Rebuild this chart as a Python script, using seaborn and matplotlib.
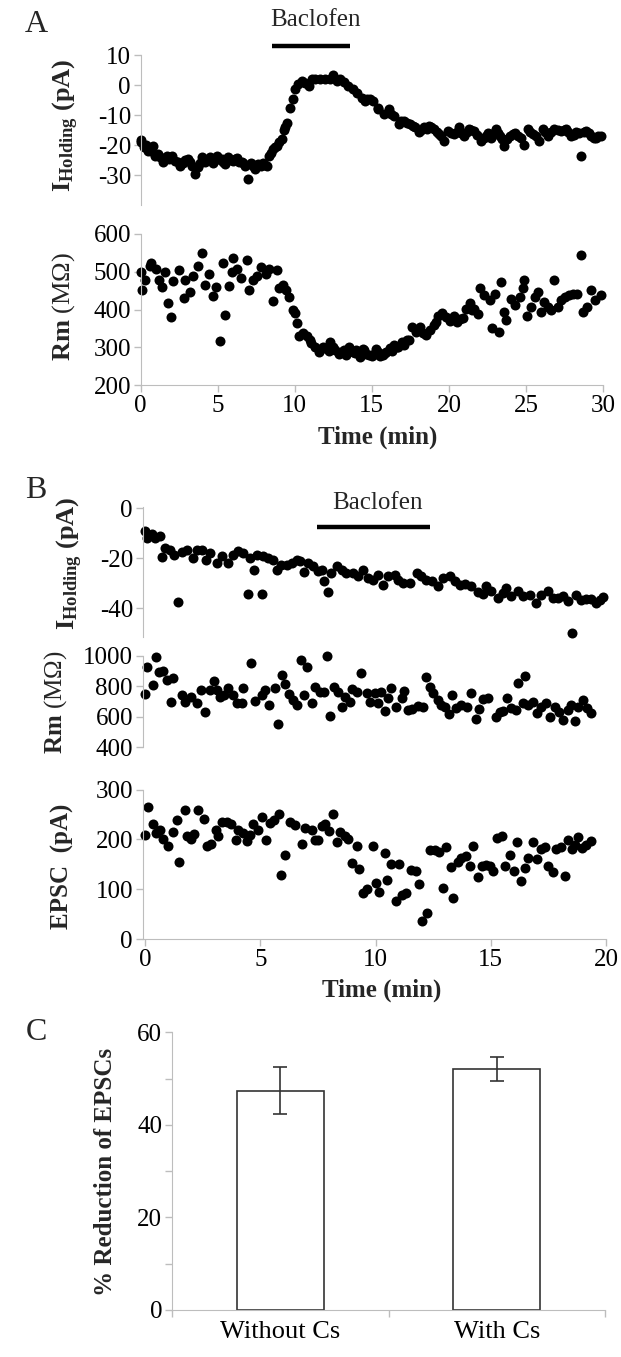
import matplotlib
matplotlib.use('Agg')
import matplotlib.pyplot as plt
import seaborn as sns

# ---------------- Panel A : holding current (pA) vs time (min)
a_hold_t = [0.0, 0.02, 0.2, 0.35, 0.5, 0.65, 0.78, 0.93, 1.1, 1.26, 1.47, 1.69, 1.85, 2.01, 2.23, 2.4,
            2.55, 2.77, 2.9, 3.1, 3.2, 3.31, 3.53, 3.74, 3.85, 3.96, 4.18, 4.35, 4.5, 4.72, 4.85, 4.98,
            5.1, 5.26, 5.35, 5.48, 5.69, 5.85, 6.02, 6.15, 6.28, 6.4, 6.56, 6.65, 6.77, 6.99, 7.14, 7.3,
            7.42, 7.64, 7.8, 7.92, 8.05, 8.18, 8.35, 8.45, 8.57, 8.7, 8.83, 9.0, 9.16, 9.3, 9.37, 9.52,
            9.7, 9.91, 10.02, 10.24, 10.45, 10.67, 10.89, 11.1, 11.32, 11.65, 11.97, 12.29, 12.51, 12.73,
            12.94, 13.2, 13.48, 13.77, 14.03, 14.35, 14.57, 14.67, 14.85, 15.1, 15.37, 15.43, 15.76,
            16.09, 16.25, 16.41, 16.74, 16.9, 17.07, 17.3, 17.5, 17.65, 17.83, 18.04, 18.2, 18.37, 18.55,
            18.7, 18.85, 19.02, 19.2, 19.35, 19.5, 19.67, 19.93, 20.15, 20.33, 20.5, 20.65, 20.8, 20.98,
            21.15, 21.3, 21.45, 21.63, 21.85, 22.07, 22.25, 22.39, 22.55, 22.72, 22.9, 23.04, 23.2,
            23.33, 23.45, 23.59, 23.8, 23.95, 24.13, 24.3, 24.46, 24.65, 24.85, 25.11, 25.25, 25.43,
            25.65, 25.87, 26.09, 26.25, 26.41, 26.65, 26.85, 27.05, 27.28, 27.45, 27.61, 27.75, 27.93,
            28.1, 28.26, 28.45, 28.59, 28.75, 28.91, 29.1, 29.24, 29.4, 29.57, 29.7, 29.85]
a_hold_v = [-19.1, -18.3, -20.8, -20.0, -21.9, -22.0, -20.4, -23.5, -23.0, -24.1, -25.7, -23.5, -24.5,
            -23.5, -25.2, -25.5, -26.9, -26.0, -25.0, -24.6, -25.5, -26.9, -29.6, -27.4, -26.0, -24.1,
            -25.7, -25.0, -24.1, -26.0, -25.0, -23.8, -24.5, -24.6, -25.5, -26.3, -24.1, -25.0, -25.2,
            -24.5, -24.4, -25.5, -25.7, -26.0, -26.9, -31.3, -26.0, -27.0, -28.0, -26.3, -27.0, -26.0,
            -26.5, -26.9, -23.5, -22.5, -21.3, -20.5, -20.2, -19.0, -18.0, -15.0, -14.1, -12.5, -7.5,
            -4.8, -1.4, 0.2, 1.3, 0.8, -0.3, 2.1, 1.9, 2.1, 1.9, 1.9, 3.2, 1.3, 2.1, 1.0, -0.3, -1.4,
            -2.5, -4.2, -5.3, -4.8, -4.8, -5.3, -8.1, -7.5, -9.7, -8.1, -9.5, -10.3, -13.0, -12.0,
            -11.9, -12.5, -13.0, -13.5, -14.1, -15.8, -15.0, -14.1, -14.5, -13.6, -14.0, -14.7, -15.5,
            -16.4, -17.0, -18.6, -15.2, -16.0, -16.4, -15.5, -14.1, -16.0, -16.9, -15.5, -14.7, -15.0,
            -15.2, -16.5, -18.6, -17.5, -16.9, -16.0, -17.5, -16.0, -14.7, -16.0, -16.9, -18.0, -20.2,
            -18.0, -17.0, -16.4, -16.0, -16.9, -17.5, -20.0, -14.7, -15.5, -16.4, -17.0, -18.6, -14.7,
            -15.5, -16.9, -15.5, -14.7, -15.0, -15.2, -15.0, -14.7, -15.5, -16.9, -16.5, -15.8, -16.0,
            -23.5, -15.5, -15.2, -16.0, -16.9, -17.5, -17.5, -17.0, -16.9]

# ---------------- Panel A : membrane resistance (MOhm)
a_rm_t = [0.0, 0.1, 0.3, 0.6, 0.7, 1.0, 1.2, 1.4, 1.6, 1.75, 1.95, 2.1, 2.5, 2.8, 2.9, 3.2, 3.4, 3.7,
          4.0, 4.15, 4.45, 4.7, 4.9, 5.15, 5.35, 5.5, 5.75, 5.9, 6.0, 6.25, 6.5, 6.9, 7.0, 7.3, 7.55,
          7.8, 8.1, 8.35, 8.6, 8.85, 9.0, 9.25, 9.4, 9.6, 9.9, 10.0, 10.15, 10.3, 10.5, 10.8, 11.0,
          11.05, 11.3, 11.55, 11.7, 11.8, 12.05, 12.2, 12.3, 12.45, 12.6, 12.85, 13.0, 13.2, 13.35,
          13.5, 13.75, 13.9, 14.0, 14.25, 14.4, 14.5, 14.65, 14.8, 15.0, 15.15, 15.3, 15.4, 15.55,
          15.7, 15.85, 15.95, 16.2, 16.3, 16.45, 16.6, 16.7, 16.95, 17.1, 17.25, 17.4, 17.6, 17.85,
          18.1, 18.3, 18.5, 18.8, 19.05, 19.15, 19.3, 19.55, 19.8, 20.05, 20.3, 20.5, 20.7, 20.9,
          21.1, 21.35, 21.5, 21.6, 21.9, 22.05, 22.25, 22.65, 22.8, 23.0, 23.25, 23.35, 23.55, 23.7,
          24.05, 24.3, 24.6, 24.8, 24.9, 25.1, 25.35, 25.6, 25.75, 26.0, 26.15, 26.4, 26.65, 26.8,
          27.05, 27.3, 27.55, 27.8, 28.05, 28.3, 28.6, 28.7, 28.95, 29.2, 29.5, 29.85]
a_rm_v = [500, 452, 478, 515, 522, 507, 478, 460, 500, 417, 380, 475, 505, 430, 478, 446, 490, 515,
          550, 465, 495, 436, 460, 317, 523, 385, 461, 500, 536, 507, 483, 531, 452, 478, 490, 512,
          495, 507, 423, 504, 456, 464, 452, 434, 400, 390, 364, 330, 338, 330, 318, 312, 300, 288,
          296, 300, 297, 290, 315, 300, 292, 283, 288, 292, 280, 300, 288, 284, 292, 275, 296, 292,
          283, 280, 277, 283, 295, 288, 278, 280, 284, 288, 297, 290, 305, 300, 300, 315, 305, 318,
          320, 354, 340, 354, 338, 332, 345, 358, 368, 384, 392, 380, 370, 384, 368, 375, 378, 402,
          416, 398, 402, 388, 456, 438, 425, 350, 442, 340, 473, 393, 372, 429, 411, 434, 456, 478,
          384, 407, 434, 447, 394, 420, 407, 398, 478, 407, 425, 434, 438, 442, 442, 545, 394, 407,
          452, 425, 438]

# ---------------- Panel B : holding current (pA)
b_hold_t = [0.0, 0.07, 0.29, 0.43, 0.65, 0.75, 0.87, 1.08, 1.27, 1.45, 1.59, 1.81, 2.1, 2.24, 2.46,
            2.63, 2.82, 3.11, 3.32, 3.61, 3.83, 4.05, 4.26, 4.45, 4.55, 4.74, 4.84, 5.06, 5.13, 5.35,
            5.56, 5.71, 5.92, 6.14, 6.36, 6.58, 6.72, 6.91, 7.08, 7.3, 7.51, 7.66, 7.77, 7.95, 8.09,
            8.31, 8.53, 8.74, 9.03, 9.25, 9.47, 9.68, 9.9, 10.12, 10.33, 10.55, 10.84, 10.98, 11.2,
            11.49, 11.78, 11.99, 12.21, 12.43, 12.72, 12.93, 13.22, 13.44, 13.66, 13.87, 14.16, 14.45,
            14.67, 14.81, 15.03, 15.32, 15.53, 15.68, 15.9, 16.18, 16.4, 16.69, 16.98, 17.2, 17.49,
            17.7, 17.92, 18.14, 18.35, 18.53, 18.71, 18.93, 19.15, 19.36, 19.58, 19.73, 19.87]
b_hold_v = [-9.3, -12.0, -10.4, -12.0, -11.0, -19.7, -16.0, -16.7, -18.7, -37.6, -17.6, -16.7, -20.0,
            -16.7, -16.7, -20.7, -18.0, -22.0, -19.3, -22.0, -18.7, -17.3, -18.0, -34.4, -20.0, -24.7,
            -18.9, -34.4, -19.3, -20.0, -20.7, -24.7, -22.7, -22.7, -22.0, -20.7, -21.3, -25.6, -22.0,
            -23.3, -25.3, -24.7, -29.0, -33.6, -26.0, -23.3, -24.7, -26.0, -26.0, -27.3, -24.7, -28.0,
            -28.7, -26.7, -30.7, -27.3, -26.7, -28.7, -30.0, -30.0, -26.0, -27.3, -28.7, -29.0, -31.3,
            -28.0, -27.3, -29.3, -30.7, -30.4, -31.3, -33.6, -34.4, -31.0, -33.3, -36.0, -34.0, -32.0,
            -35.3, -33.3, -35.3, -34.7, -38.0, -34.7, -33.3, -36.0, -36.0, -35.3, -37.3, -50.0, -34.7,
            -36.7, -36.3, -36.3, -38.0, -36.7, -35.7]

# ---------------- Panel B : membrane resistance (MOhm)
b_rm_t = [0.0, 0.1, 0.33, 0.48, 0.62, 0.8, 0.97, 1.11, 1.23, 1.59, 1.73, 1.98, 2.24, 2.41, 2.6, 2.82,
          2.99, 3.14, 3.25, 3.43, 3.61, 3.83, 3.98, 4.19, 4.26, 4.62, 4.77, 5.06, 5.2, 5.39, 5.64,
          5.78, 5.93, 6.07, 6.26, 6.43, 6.58, 6.75, 6.9, 7.04, 7.23, 7.37, 7.59, 7.76, 7.91, 8.02,
          8.2, 8.38, 8.53, 8.67, 8.89, 9.0, 9.18, 9.39, 9.61, 9.75, 9.97, 10.12, 10.22, 10.41, 10.55,
          10.69, 10.91, 11.13, 11.23, 11.42, 11.6, 11.85, 12.07, 12.18, 12.36, 12.5, 12.72, 12.86,
          13.01, 13.19, 13.34, 13.51, 13.73, 13.95, 14.16, 14.38, 14.5, 14.67, 14.89, 15.22, 15.39,
          15.54, 15.71, 15.9, 16.08, 16.18, 16.4, 16.47, 16.62, 16.83, 17.0, 17.2, 17.38, 17.58,
          17.77, 17.96, 18.14, 18.35, 18.5, 18.64, 18.79, 19.0, 19.18, 19.36]
b_rm_v = [750, 925, 809, 996, 897, 904, 842, 700, 853, 743, 700, 728, 689, 776, 634, 776, 838, 776,
          733, 743, 787, 743, 689, 689, 787, 956, 706, 743, 776, 678, 787, 553, 875, 816, 750, 711,
          678, 974, 743, 925, 689, 798, 765, 765, 1002, 605, 798, 765, 662, 728, 700, 781, 765, 886,
          754, 700, 754, 689, 765, 640, 722, 787, 667, 722, 772, 645, 649, 671, 662, 864, 794, 754,
          711, 678, 667, 618, 743, 656, 678, 667, 754, 583, 649, 715, 722, 596, 634, 640, 722, 656,
          645, 820, 693, 868, 678, 700, 623, 667, 689, 596, 667, 634, 579, 645, 678, 575, 667, 711,
          656, 627]

# ---------------- Panel B : EPSC amplitude (pA)
b_epsc_t = [0.0, 0.14, 0.33, 0.48, 0.65, 0.79, 1.01, 1.2, 1.37, 1.49, 1.73, 1.84, 1.98, 2.12, 2.31,
            2.56, 2.7, 2.85, 3.08, 3.18, 3.32, 3.54, 3.71, 3.94, 4.05, 4.26, 4.44, 4.55, 4.7, 4.91,
            5.09, 5.27, 5.42, 5.59, 5.81, 5.92, 6.07, 6.29, 6.5, 6.79, 6.94, 7.23, 7.37, 7.52, 7.66,
            7.81, 8.0, 8.14, 8.31, 8.48, 8.67, 8.82, 9.0, 9.18, 9.29, 9.47, 9.64, 9.87, 10.01, 10.16,
            10.4, 10.51, 10.69, 10.88, 11.03, 11.17, 11.34, 11.52, 11.75, 11.9, 12.0, 12.25, 12.38,
            12.57, 12.76, 12.91, 13.08, 13.26, 13.37, 13.58, 13.73, 13.92, 14.09, 14.23, 14.45, 14.6,
            14.81, 14.96, 15.1, 15.25, 15.47, 15.61, 15.83, 16.0, 16.12, 16.33, 16.48, 16.62, 16.84,
            17.01, 17.2, 17.35, 17.49, 17.71, 17.83, 18.03, 18.22, 18.36, 18.51, 18.65, 18.8, 18.98,
            19.13, 19.37]
b_epsc_v = [208, 265, 230, 213, 219, 201, 187, 214, 238, 154, 258, 207, 201, 211, 258, 241, 187, 191,
            218, 207, 234, 234, 231, 198, 218, 213, 196, 209, 231, 218, 245, 198, 233, 238, 250, 128,
            169, 234, 228, 191, 223, 219, 198, 198, 226, 231, 216, 250, 194, 214, 206, 201, 152, 187,
            140, 93, 100, 187, 113, 95, 172, 119, 151, 77, 151, 89, 93, 139, 136, 111, 37, 53, 178,
            179, 174, 102, 185, 144, 82, 154, 162, 166, 147, 187, 124, 147, 149, 146, 136, 203, 207,
            147, 169, 136, 194, 117, 142, 162, 194, 160, 181, 185, 147, 134, 180, 185, 127, 198, 180,
            189, 205, 183, 189, 196]

# ---------------- Panel C : % reduction of EPSCs
c_groups = ['Without Cs', 'With Cs']
c_mean = [47.4, 52.0]
c_err = [5.0, 2.6]

# ---------------- style
sns.set_style('white')
plt.rcParams['font.family'] = ['Liberation Serif', 'DejaVu Serif']
plt.rcParams['mathtext.fontset'] = 'custom'
plt.rcParams['mathtext.rm'] = 'Liberation Serif'
plt.rcParams['mathtext.bf'] = 'Liberation Serif:bold'
plt.rcParams['axes.unicode_minus'] = False

W, H = 621, 1357
fig = plt.figure(figsize=(W / 100, H / 100), dpi=100)
GRAY = '#bdbdbd'
TICK = 18
LAB = 18


def px_axes(x0, y0, x1, y1):
    # axes placed with pixel edges measured from the top-left corner
    return fig.add_axes([x0 / W, 1 - y1 / H, (x1 - x0) / W, (y1 - y0) / H])


def style(ax, bottom=True):
    ax.patch.set_alpha(0)
    for s in ['top', 'right']:
        ax.spines[s].set_visible(False)
    ax.spines['left'].set_color(GRAY)
    ax.spines['bottom'].set_color(GRAY)
    ax.spines['bottom'].set_visible(bottom)
    ax.tick_params(axis='both', which='both', colors=GRAY, labelcolor='black', length=5, width=1,
                   direction='out', labelsize=TICK, pad=2, left=True, bottom=bottom)
    if not bottom:
        ax.set_xticks([])
    ax.set_xlabel('')
    ax.set_ylabel('')


def dots(ax, t, v):
    sns.scatterplot(x=t, y=v, ax=ax, color='black', s=52, linewidth=0, legend=False, clip_on=False)


# A: holding current
ax = px_axes(140.7, 55, 603, 205)
dots(ax, a_hold_t, a_hold_v)
ax.set_xlim(0, 30)
ax.set_ylim(-40, 10)
ax.set_yticks([-30, -20, -10, 0, 10])
style(ax, bottom=False)
ax.plot([8.5, 13.6], [13, 13], color='black', lw=3.2, clip_on=False, solid_capstyle='butt')
ax.text(8.4, 21.6, 'Baclofen', ha='left', va='center', fontsize=LAB)

# A: Rm
ax = px_axes(140.7, 234, 603, 385)
dots(ax, a_rm_t, a_rm_v)
ax.set_xlim(0, 30)
ax.set_ylim(200, 600)
ax.set_yticks([200, 300, 400, 500, 600])
ax.set_xticks([0, 5, 10, 15, 20, 25, 30])
style(ax)

# B: holding current
ax = px_axes(142.7, 506.7, 606, 636.7)
dots(ax, b_hold_t, b_hold_v)
ax.set_xlim(-0.1, 20)
ax.set_ylim(-51.4, 0.6)
ax.set_yticks([-40, -20, 0])
style(ax, bottom=False)
ax.plot([7.45, 12.35], [-7.6, -7.6], color='black', lw=3.2, clip_on=False, solid_capstyle='butt')
ax.text(10.1, 2.1, 'Baclofen', ha='center', va='center', fontsize=LAB)

# B: Rm
ax = px_axes(142.7, 656, 606, 747.3)
dots(ax, b_rm_t, b_rm_v)
ax.set_xlim(-0.1, 20)
ax.set_ylim(400, 1000)
ax.set_yticks([400, 600, 800, 1000])
style(ax, bottom=False)

# B: EPSC
ax = px_axes(142.7, 789.5, 606, 939)
dots(ax, b_epsc_t, b_epsc_v)
ax.set_xlim(-0.1, 20)
ax.set_ylim(0, 300)
ax.set_yticks([0, 100, 200, 300])
ax.set_xticks([0, 5, 10, 15, 20])
style(ax)

# C: bars
ax = px_axes(172, 1032.3, 605, 1310)
sns.barplot(x=c_groups, y=c_mean, ax=ax, color='white', edgecolor='#333333', linewidth=1.2,
            width=0.4, errorbar=None)
ax.errorbar([0, 1], c_mean, yerr=c_err, fmt='none', ecolor='#333333', elinewidth=1.2, capsize=5,
            capthick=1.2)
ax.set_xlim(-0.5, 1.5)
ax.set_ylim(0, 60)
ax.set_yticks([0, 20, 40, 60])
ax.set_yticks([10, 30, 50], minor=True)
ax.set_xticks([-0.5, 0.5, 1.5], minor=True)
style(ax)
ax.tick_params(axis='x', which='major', length=0, pad=8, labelsize=19)
ax.tick_params(axis='y', which='minor', labelleft=False)

# axis titles and panel letters (pixel positions)
def ftext(x, y, s, **kw):
    fig.text(x / W, 1 - y / H, s, ha='center', va='center', **kw)

ftext(66, 125, r'$\mathbf{I_{Holding}}$ (pA)', rotation=90, fontsize=LAB + 1, fontweight='bold')
ftext(64, 306, r'$\mathbf{Rm}$ (M$\Omega$)', rotation=90, fontsize=LAB + 1)
ftext(70, 563, r'$\mathbf{I_{Holding}}$ (pA)', rotation=90, fontsize=LAB + 1, fontweight='bold')
ftext(56, 702, r'$\mathbf{Rm}$ (M$\Omega$)', rotation=90, fontsize=LAB)
ftext(62, 866, 'EPSC  (pA)', rotation=90, fontsize=LAB, fontweight='bold')
ftext(106, 1172, '% Reduction of EPSCs', rotation=90, fontsize=LAB, fontweight='bold')
ftext(378, 437, 'Time (min)', fontsize=LAB, fontweight='bold')
ftext(382, 990, 'Time (min)', fontsize=LAB, fontweight='bold')
ftext(36, 25, 'A', fontsize=23)
ftext(36, 490, 'B', fontsize=23)
ftext(36, 1033, 'C', fontsize=23)

fig.savefig('out.png', dpi=100)
